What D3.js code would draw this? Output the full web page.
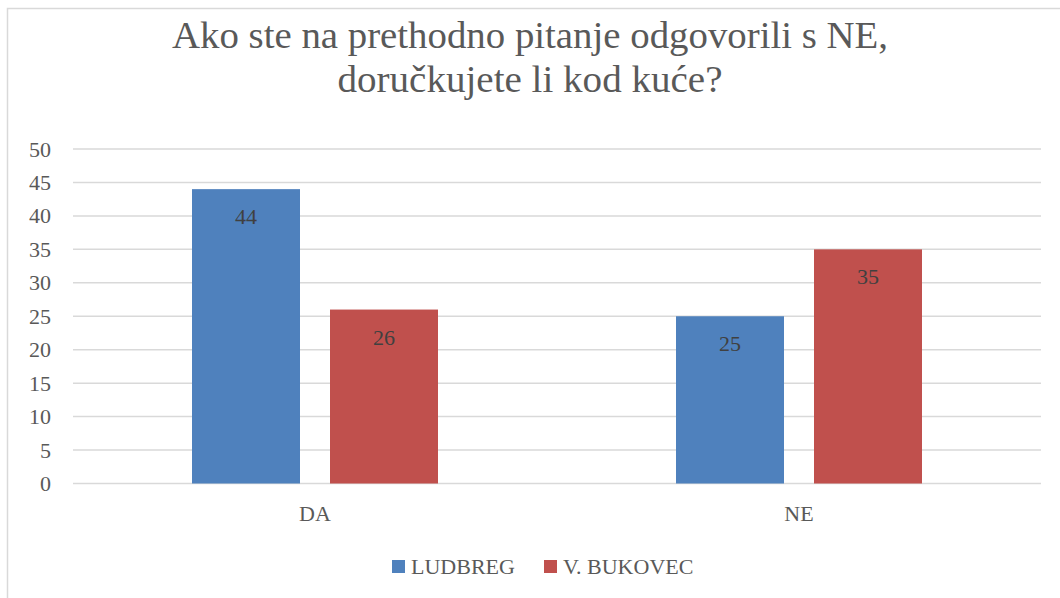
<!DOCTYPE html>
<html>
<head>
<meta charset="utf-8">
<script src="https://cdn.jsdelivr.net/npm/d3@7"></script>
<style>
  body { margin: 0; background: #fff; }
  svg { display: block; font-family: "Liberation Serif", "DejaVu Serif", serif; }
</style>
</head>
<body>
<svg id="svg" width="1060" height="598"></svg>
<script>
const width = 1060;
const height = 598;

const titleLines = ['Ako ste na prethodno pitanje odgovorili s NE,', 'doručkujete li kod kuće?'];
const categories = ['DA', 'NE'];
const seriesNames = ['LUDBREG', 'V. BUKOVEC'];
const ludbreg = [44, 25];
const bukovec = [26, 35];
const yTicks = [0, 5, 10, 15, 20, 25, 30, 35, 40, 45, 50];

const colors = ['#4f81bd', '#c0504d'];
const textColor = '#595959';
const gridColor = '#d9d9d9';

const plot = { left: 73, right: 1041, top: 149, bottom: 483.5 };

const svg = d3.select('#svg');

// chart frame (only top and left edges are visible in the crop)
svg.append('rect')
  .attr('x', 7.5).attr('y', 8.5)
  .attr('width', 1100).attr('height', 700)
  .attr('fill', 'none')
  .attr('stroke', gridColor)
  .attr('stroke-width', 1.5);

// title
const titleWidths = [716, 385];
svg.append('g').selectAll('text')
  .data(titleLines)
  .join('text')
  .attr('x', 530)
  .attr('y', (d, i) => 48 + i * 44)
  .attr('text-anchor', 'middle')
  .attr('font-size', 38)
  .attr('fill', textColor)
  .attr('textLength', (d, i) => titleWidths[i])
  .attr('lengthAdjust', 'spacingAndGlyphs')
  .text(d => d);

const x0 = d3.scaleBand()
  .domain(categories)
  .range([plot.left, plot.right]);

// two bars of 108px with a 30px gap, centred in each 484px category band
const outerGap = 119;
const x1 = d3.scaleBand()
  .domain(seriesNames)
  .range([outerGap, x0.bandwidth() - outerGap])
  .paddingInner(30 / 138);

const y = d3.scaleLinear()
  .domain([0, 50])
  .range([plot.bottom, plot.top]);

// gridlines
svg.append('g')
  .selectAll('line')
  .data(yTicks)
  .join('line')
  .attr('x1', plot.left)
  .attr('x2', plot.right)
  .attr('y1', d => y(d))
  .attr('y2', d => y(d))
  .attr('stroke', gridColor)
  .attr('stroke-width', 1.5);

// y axis labels
const yAxis = d3.axisLeft(y).tickValues(yTicks).tickSize(0).tickPadding(0);
const yg = svg.append('g')
  .attr('transform', 'translate(51,0)')
  .call(yAxis);
yg.select('.domain').remove();
yg.selectAll('text')
  .attr('font-family', '"Liberation Serif", serif')
  .attr('font-size', 22)
  .attr('fill', textColor);

// x axis labels
const xAxis = d3.axisBottom(x0).tickSize(0).tickPadding(0);
const xg = svg.append('g')
  .attr('transform', 'translate(0,505)')
  .call(xAxis);
xg.select('.domain').remove();
xg.selectAll('text')
  .attr('font-family', '"Liberation Serif", serif')
  .attr('font-size', 22)
  .attr('fill', textColor);

// bars
const rows = categories.map((c, i) => ({
  category: c,
  values: [
    { name: seriesNames[0], value: ludbreg[i] },
    { name: seriesNames[1], value: bukovec[i] }
  ]
}));

const groups = svg.append('g')
  .selectAll('g')
  .data(rows)
  .join('g')
  .attr('transform', d => 'translate(' + x0(d.category) + ',0)');

groups.selectAll('rect')
  .data(d => d.values)
  .join('rect')
  .attr('x', d => x1(d.name))
  .attr('y', d => y(d.value))
  .attr('width', x1.bandwidth())
  .attr('height', d => y(0) - y(d.value))
  .attr('fill', (d, i) => colors[i]);

groups.selectAll('text')
  .data(d => d.values)
  .join('text')
  .attr('x', d => x1(d.name) + x1.bandwidth() / 2)
  .attr('y', d => y(d.value) + 35)
  .attr('text-anchor', 'middle')
  .attr('font-size', 22)
  .attr('fill', '#404040')
  .text(d => d.value);

// legend
const legendX = [392, 544];
const legend = svg.append('g')
  .selectAll('g')
  .data(seriesNames)
  .join('g')
  .attr('transform', (d, i) => 'translate(' + legendX[i] + ',560)');

legend.append('rect')
  .attr('width', 13)
  .attr('height', 13)
  .attr('fill', (d, i) => colors[i]);

legend.append('text')
  .attr('x', 19)
  .attr('y', 14)
  .attr('font-size', 22)
  .attr('fill', textColor)
  .text(d => d);
</script>
</body>
</html>
